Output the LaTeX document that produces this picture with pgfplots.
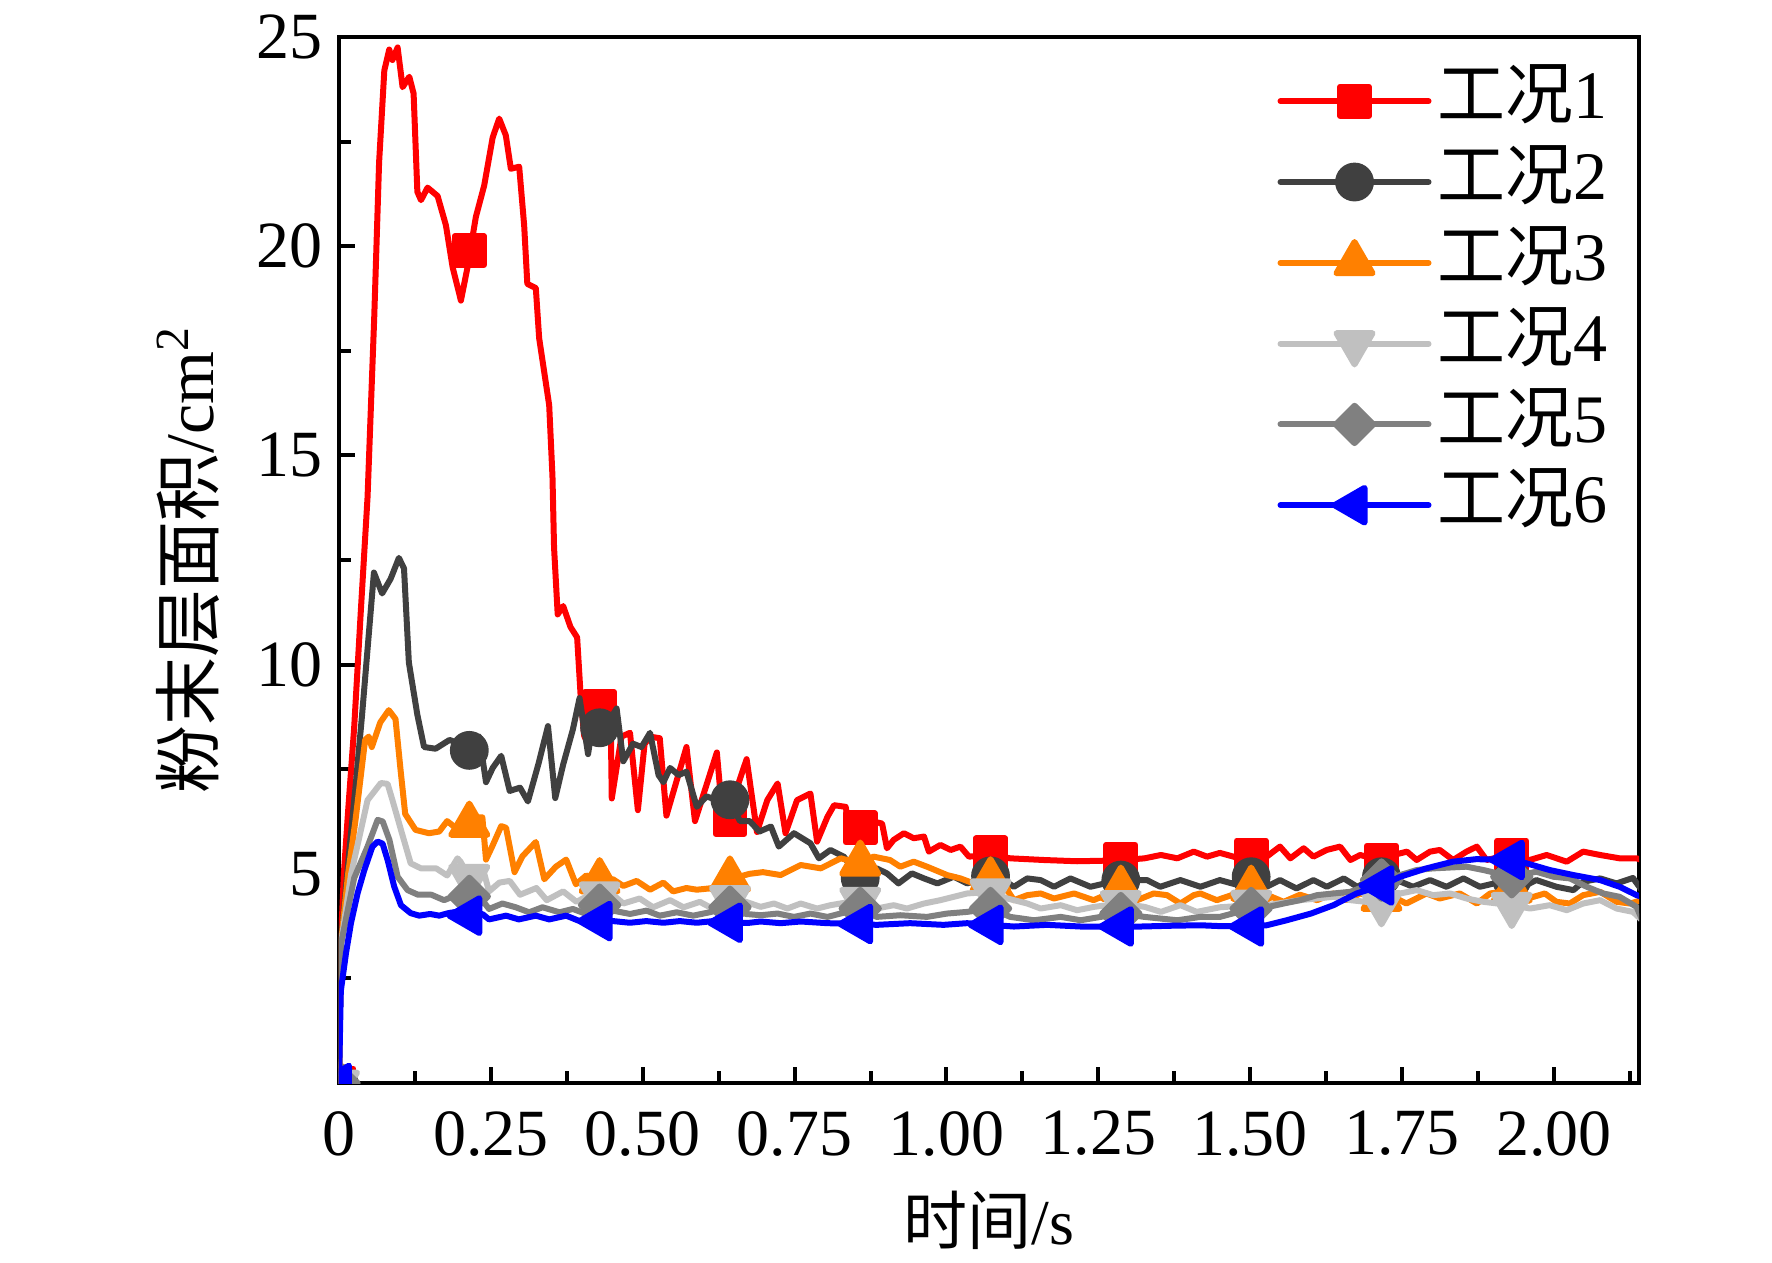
\documentclass[border=0pt]{standalone}
\usepackage{fontspec}
\setmainfont{Liberation Serif}
\newfontfamily\cjk{Noto Sans CJK SC}
\usepackage{pgfplots}
\pgfplotsset{compat=1.18}
\usetikzlibrary{plotmarks}
\definecolor{c1}{HTML}{FF0000}
\definecolor{c2}{HTML}{404040}
\definecolor{c3}{HTML}{FF8000}
\definecolor{c4}{HTML}{C0C0C0}
\definecolor{c5}{HTML}{808080}
\definecolor{c6}{HTML}{0000FF}
\begin{document}
\begin{tikzpicture}
\useasboundingbox (-84.75pt,-44.75pt) rectangle (358.25pt,270.75pt);
\begin{axis}[
  scale only axis, width=325pt, height=261.5pt,
  xmin=0, xmax=2.14, ymin=0, ymax=25,
  axis line style={line width=1.2pt},
  tick style={line width=1pt, black},
  tick align=inside, xtick pos=bottom, ytick pos=left,
  major tick length=4pt, minor tick length=3pt,
  xtick={0,0.25,0.5,0.75,1,1.25,1.5,1.75,2},
  xticklabels={0,0.25,0.50,0.75,1.00,1.25,1.50,1.75,2.00},
  minor xtick={0.125,0.375,0.625,0.875,1.125,1.375,1.625,1.875,2.125},
  ytick={5,10,15,20,25}, yticklabels={5,10,15,20,25},
  minor ytick={2.5,7.5,12.5,17.5,22.5},
  tick label style={font=\fontsize{16.5}{19}\selectfont},
  xticklabel style={yshift=-3.5pt},
  yticklabel style={xshift=-0.5pt},
  /pgf/number format/assume math mode=true,
  xlabel={{\cjk 时间}/s},
  ylabel={{\cjk 粉末层面积}/cm\textsuperscript{2}},
  xlabel style={font=\fontsize{16}{19}\selectfont, at={(axis description cs:0.5,-0.131)}, anchor=center},
  ylabel style={font=\fontsize{17}{20}\selectfont, at={(axis description cs:-0.1162,0.5)}, anchor=center},
  clip marker paths=true,
  every axis plot/.append style={line width=1.5pt, line join=round, line cap=round},
  legend style={draw=none, fill=none, at={(0.981,0.978)}, anchor=north east,
    font=\fontsize{17}{20}\selectfont, inner sep=0pt, row sep=0pt,
    nodes={text height=13pt, text depth=4.2pt, inner sep=1.5pt}},
  legend cell align=left,
  legend image code/.code={\draw[mark repeat=2,mark phase=2] plot coordinates {(0pt,0pt) (18.5pt,0pt) (37pt,0pt)};},
]
\addlegendimage{c1, mark=square*, mark size=3.6pt, mark options={solid}}
\addlegendimage{c2, mark=*, mark size=4.1pt}
\addlegendimage{c3, mark=triangle*, mark size=5.2pt}
\addlegendimage{c4, mark=triangle*, mark size=5.2pt, mark options={rotate=180}}
\addlegendimage{c5, mark=square*, mark size=3.3pt, mark options={rotate=45}}
\addlegendimage{c6, mark=triangle*, mark size=5pt, mark options={rotate=90}}
\legend{{\cjk 工况}1,{\cjk 工况}2,{\cjk 工况}3,{\cjk 工况}4,{\cjk 工况}5,{\cjk 工况}6}

% ---- 工况1
\addplot[c1, no marks, forget plot] coordinates {
(0,0)(0.003,3.3)(0.008,5.0)(0.015,6.5)(0.025,8.5)(0.036,11.3)(0.047,14.0)(0.058,18.3)(0.066,22.0)(0.0746,24.2)(0.0827,24.7)(0.088,24.45)(0.0965,24.75)(0.1047,23.8)(0.1157,24.05)(0.1228,23.65)(0.129,21.3)(0.135,21.1)(0.1458,21.4)(0.1623,21.2)(0.176,20.5)(0.187,19.5)(0.2007,18.7)(0.2116,19.5)(0.2253,20.7)(0.239,21.45)(0.253,22.6)(0.2637,23.05)(0.2746,22.65)(0.2829,21.85)(0.2966,21.9)(0.3048,20.5)(0.31,19.1)(0.324,19.0)(0.3295,17.8)(0.346,16.2)(0.3514,14.5)(0.354,12.8)(0.36,11.2)(0.369,11.4)(0.381,10.9)(0.392,10.65)(0.398,9.2)(0.4035,8.3)(0.41,8.1)(0.42,8.8)(0.435,9.0)(0.447,9.0)(0.449,6.8)(0.465,8.28)(0.479,8.37)(0.492,6.52)(0.503,8.1)(0.512,8.28)(0.528,8.24)(0.539,6.39)(0.572,8.03)(0.586,6.26)(0.622,7.9)(0.633,6.1)(0.671,7.74)(0.688,6.0)(0.705,6.76)(0.722,7.16)(0.735,5.97)(0.754,6.76)(0.776,6.92)(0.787,5.77)(0.804,6.36)(0.815,6.64)(0.834,6.6)(0.842,5.97)(0.858,6.1)(0.88,6.25)(0.894,6.2)(0.902,5.61)(0.913,5.81)(0.93,5.97)(0.946,5.85)(0.963,5.89)(0.971,5.53)(0.99,5.69)(1.007,5.57)(1.023,5.65)(1.037,5.41)(1.071,5.45)(1.105,5.37)(1.16,5.33)(1.215,5.3)(1.284,5.32)(1.326,5.37)(1.353,5.45)(1.38,5.37)(1.407,5.53)(1.429,5.41)(1.45,5.5)(1.475,5.4)(1.497,5.45)(1.527,5.41)(1.549,5.65)(1.566,5.37)(1.588,5.61)(1.604,5.41)(1.626,5.57)(1.648,5.65)(1.665,5.33)(1.681,5.45)(1.711,5.33)(1.736,5.45)(1.758,5.53)(1.774,5.33)(1.796,5.53)(1.812,5.57)(1.834,5.33)(1.856,5.53)(1.873,5.65)(1.889,5.33)(1.925,5.45)(1.96,5.33)(1.988,5.45)(2.021,5.29)(2.048,5.53)(2.076,5.45)(2.108,5.37)(2.136,5.37)(2.15,5.3)
};
\addplot[c1, only marks, mark=square*, mark size=3.6pt, forget plot] coordinates {
(0,0)(0.2145,19.9)(0.429,9.0)(0.6435,6.3)(0.858,6.1)(1.0725,5.5)(1.287,5.35)(1.5015,5.45)(1.716,5.33)(1.9305,5.45)(2.145,5.3)
};
% ---- 工况2
\addplot[c2, no marks, forget plot] coordinates {
(0,0)(0.003,3.3)(0.016,5.4)(0.028,7.2)(0.038,8.8)(0.0575,12.2)(0.071,11.7)(0.085,12.05)(0.0986,12.55)(0.107,12.3)(0.115,10.05)(0.129,8.8)(0.14,8.03)(0.159,7.99)(0.182,8.2)(0.198,8.11)(0.215,7.95)(0.231,8.28)(0.242,7.19)(0.253,7.53)(0.267,7.82)(0.281,6.98)(0.298,7.06)(0.311,6.73)(0.328,7.61)(0.344,8.53)(0.356,6.81)(0.369,7.61)(0.385,8.45)(0.396,9.2)(0.41,7.86)(0.418,8.62)(0.429,8.49)(0.443,8.62)(0.457,8.95)(0.468,7.69)(0.484,8.11)(0.498,8.03)(0.512,8.37)(0.526,7.36)(0.534,7.19)(0.545,7.53)(0.559,7.36)(0.572,7.44)(0.589,6.6)(0.605,6.85)(0.621,6.77)(0.643,6.77)(0.66,6.26)(0.676,6.26)(0.692,6.01)(0.711,6.13)(0.724,5.65)(0.749,5.97)(0.776,5.73)(0.79,5.37)(0.809,5.57)(0.831,5.41)(0.857,4.9)(0.885,5.13)(0.902,5.01)(0.921,4.77)(0.943,5.01)(0.963,4.89)(0.985,4.77)(1.012,4.93)(1.034,4.77)(1.071,4.95)(1.094,4.85)(1.111,4.69)(1.133,4.89)(1.155,4.85)(1.177,4.69)(1.204,4.89)(1.237,4.69)(1.284,4.85)(1.33,4.85)(1.352,4.69)(1.385,4.85)(1.418,4.69)(1.45,4.85)(1.475,4.75)(1.497,4.93)(1.527,4.69)(1.549,4.85)(1.576,4.65)(1.604,4.85)(1.626,4.69)(1.654,4.89)(1.676,4.69)(1.711,4.93)(1.741,4.85)(1.768,4.69)(1.796,4.85)(1.823,4.69)(1.851,4.89)(1.878,4.69)(1.925,4.85)(1.949,4.69)(1.971,4.85)(2.004,4.69)(2.032,4.61)(2.048,4.81)(2.076,4.89)(2.103,4.77)(2.13,4.9)(2.145,4.6)
};
\addplot[c2, only marks, mark=*, mark size=4.1pt, forget plot] coordinates {
(0,0)(0.2145,7.95)(0.429,8.49)(0.6435,6.77)(0.858,4.9)(1.0725,4.95)(1.287,4.85)(1.5015,4.93)(1.716,4.93)(1.9305,4.85)(2.145,4.9)
};
% ---- 工况3
\addplot[c3, no marks, forget plot] coordinates {
(0,0)(0.003,3.3)(0.015,5.0)(0.027,6.26)(0.043,8.2)(0.049,8.28)(0.054,8.03)(0.068,8.62)(0.082,8.91)(0.093,8.7)(0.101,7.53)(0.109,6.43)(0.126,6.05)(0.148,5.97)(0.165,6.01)(0.178,6.26)(0.192,6.1)(0.2145,6.18)(0.225,6.35)(0.236,6.35)(0.242,5.34)(0.253,5.68)(0.267,6.14)(0.275,6.1)(0.289,5.04)(0.302,5.42)(0.324,5.76)(0.338,4.87)(0.357,5.17)(0.374,5.34)(0.39,4.75)(0.407,4.96)(0.429,4.83)(0.451,4.87)(0.468,4.71)(0.49,4.83)(0.512,4.62)(0.534,4.79)(0.55,4.58)(0.572,4.66)(0.589,4.62)(0.616,4.66)(0.6435,4.87)(0.676,5.0)(0.698,5.04)(0.727,4.97)(0.76,5.21)(0.793,5.13)(0.826,5.37)(0.858,5.25)(0.88,5.41)(0.907,5.33)(0.924,5.17)(0.946,5.29)(0.968,5.17)(1.001,4.97)(1.023,4.89)(1.045,4.77)(1.0725,4.85)(1.1,4.61)(1.111,4.37)(1.133,4.49)(1.155,4.53)(1.177,4.41)(1.21,4.53)(1.242,4.37)(1.287,4.65)(1.314,4.37)(1.341,4.53)(1.363,4.49)(1.385,4.29)(1.407,4.49)(1.418,4.53)(1.445,4.37)(1.5015,4.65)(1.527,4.5)(1.555,4.33)(1.582,4.5)(1.61,4.37)(1.637,4.53)(1.659,4.37)(1.681,4.53)(1.716,4.41)(1.741,4.41)(1.757,4.29)(1.79,4.53)(1.812,4.41)(1.845,4.53)(1.873,4.29)(1.895,4.53)(1.9305,4.61)(1.957,4.41)(1.985,4.53)(2.004,4.33)(2.026,4.29)(2.048,4.49)(2.076,4.57)(2.103,4.33)(2.125,4.29)(2.145,4.37)
};
\addplot[c3, only marks, mark=triangle*, mark size=5.2pt, forget plot] coordinates {
(0,0)(0.2145,6.18)(0.429,4.83)(0.6435,4.87)(0.858,5.25)(1.0725,4.85)(1.287,4.65)(1.5015,4.65)(1.716,4.41)(1.9305,4.61)(2.145,4.35)
};
% ---- 工况4
\addplot[c4, no marks, forget plot] coordinates {
(0,0)(0.003,3.3)(0.02,5.0)(0.047,6.76)(0.069,7.17)(0.08,7.15)(0.088,6.76)(0.102,6.05)(0.118,5.25)(0.135,5.13)(0.16,5.13)(0.178,4.96)(0.195,5.37)(0.2,5.29)(0.2145,4.92)(0.236,5.17)(0.247,4.58)(0.264,4.79)(0.281,4.83)(0.298,4.5)(0.325,4.66)(0.342,4.37)(0.369,4.58)(0.391,4.33)(0.413,4.5)(0.429,4.5)(0.451,4.5)(0.468,4.29)(0.495,4.41)(0.517,4.2)(0.545,4.37)(0.567,4.2)(0.594,4.33)(0.616,4.16)(0.6435,4.41)(0.67,4.33)(0.694,4.21)(0.716,4.29)(0.738,4.17)(0.76,4.29)(0.787,4.17)(0.809,4.25)(0.858,4.37)(0.885,4.17)(0.913,4.25)(0.935,4.17)(0.963,4.29)(0.99,4.37)(1.012,4.45)(1.034,4.53)(1.0725,4.57)(1.1,4.41)(1.133,4.29)(1.155,4.17)(1.188,4.25)(1.215,4.13)(1.243,4.21)(1.287,4.29)(1.326,4.21)(1.353,4.09)(1.385,4.25)(1.412,4.09)(1.45,4.2)(1.5015,4.25)(1.527,4.25)(1.582,4.37)(1.637,4.45)(1.665,4.37)(1.716,4.29)(1.747,4.53)(1.774,4.61)(1.801,4.49)(1.829,4.53)(1.856,4.41)(1.884,4.33)(1.9305,4.25)(1.961,4.17)(1.993,4.25)(2.021,4.13)(2.048,4.29)(2.076,4.37)(2.103,4.17)(2.13,4.09)(2.145,3.89)
};
\addplot[c4, only marks, mark=triangle*, mark size=5.2pt, mark options={rotate=180}, forget plot] coordinates {
(0,0)(0.2145,4.92)(0.429,4.5)(0.6435,4.41)(0.858,4.37)(1.0725,4.57)(1.287,4.29)(1.5015,4.3)(1.716,4.29)(1.9305,4.25)(2.145,4.0)
};
% ---- 工况5
\addplot[c5, no marks, forget plot] coordinates {
(0,0)(0.003,3.3)(0.025,4.9)(0.047,5.65)(0.0636,6.29)(0.072,6.25)(0.083,5.81)(0.0965,4.93)(0.113,4.61)(0.13,4.5)(0.152,4.5)(0.173,4.37)(0.195,4.5)(0.2145,4.46)(0.236,4.37)(0.247,4.16)(0.269,4.29)(0.291,4.2)(0.313,4.08)(0.335,4.2)(0.363,4.08)(0.385,4.16)(0.407,4.04)(0.429,4.25)(0.451,4.12)(0.479,4.04)(0.506,4.12)(0.528,4.0)(0.556,4.08)(0.583,4.0)(0.61,4.08)(0.6435,4.2)(0.67,4.04)(0.694,4.01)(0.722,4.05)(0.749,3.97)(0.776,4.05)(0.804,3.97)(0.858,4.17)(0.885,3.97)(0.924,4.01)(0.968,3.97)(1.001,4.05)(1.034,4.09)(1.0725,4.17)(1.105,3.97)(1.144,3.89)(1.188,3.97)(1.221,3.89)(1.287,4.05)(1.326,3.97)(1.38,3.89)(1.418,3.97)(1.45,3.97)(1.5015,4.17)(1.527,4.2)(1.555,4.29)(1.582,4.37)(1.61,4.49)(1.637,4.53)(1.665,4.57)(1.716,4.85)(1.747,4.97)(1.774,5.09)(1.801,5.13)(1.856,5.17)(1.884,5.09)(1.9305,4.93)(1.971,5.05)(1.999,4.93)(2.026,4.89)(2.054,4.69)(2.081,4.53)(2.108,4.45)(2.136,4.21)(2.145,3.9)
};
\addplot[c5, only marks, mark=square*, mark size=3.3pt, mark options={rotate=45}, forget plot] coordinates {
(0,0)(0.2145,4.46)(0.429,4.25)(0.6435,4.2)(0.858,4.17)(1.0725,4.17)(1.287,4.05)(1.5015,4.17)(1.716,4.85)(1.9305,4.93)(2.145,4.1)
};
% ---- 工况6
\addplot[c6, no marks, forget plot] coordinates {
(0,0)(0.003,2.2)(0.0115,3.1)(0.0197,3.82)(0.0307,4.54)(0.0417,5.09)(0.055,5.65)(0.0636,5.77)(0.0718,5.72)(0.08,5.33)(0.091,4.69)(0.102,4.25)(0.118,4.06)(0.132,4.0)(0.15,4.04)(0.165,4.0)(0.18,4.06)(0.197,4.1)(0.2145,4.0)(0.236,4.04)(0.247,3.91)(0.275,4.0)(0.296,3.91)(0.324,4.0)(0.346,3.91)(0.374,4.0)(0.396,3.87)(0.429,3.87)(0.451,3.87)(0.479,3.83)(0.506,3.87)(0.534,3.83)(0.561,3.87)(0.589,3.83)(0.616,3.87)(0.6435,3.83)(0.676,3.83)(0.694,3.86)(0.727,3.82)(0.76,3.86)(0.804,3.82)(0.858,3.8)(0.885,3.78)(0.94,3.82)(0.995,3.78)(1.034,3.82)(1.0725,3.78)(1.111,3.74)(1.166,3.78)(1.221,3.74)(1.287,3.74)(1.32,3.74)(1.374,3.76)(1.418,3.77)(1.45,3.75)(1.5015,3.74)(1.527,3.77)(1.56,3.89)(1.6,4.05)(1.637,4.25)(1.675,4.53)(1.716,4.72)(1.747,4.93)(1.79,5.13)(1.834,5.29)(1.872,5.35)(1.9305,5.33)(1.955,5.25)(1.993,5.09)(2.032,4.97)(2.076,4.85)(2.108,4.69)(2.136,4.49)(2.145,4.45)
};
\addplot[c6, only marks, mark=triangle*, mark size=5pt, mark options={rotate=90}, forget plot] coordinates {
(0,0)(0.2145,4.0)(0.429,3.87)(0.6435,3.83)(0.858,3.8)(1.0725,3.78)(1.287,3.74)(1.5015,3.74)(1.716,4.72)(1.9305,5.33)(2.145,4.45)
};
\end{axis}
\end{tikzpicture}
\end{document}
